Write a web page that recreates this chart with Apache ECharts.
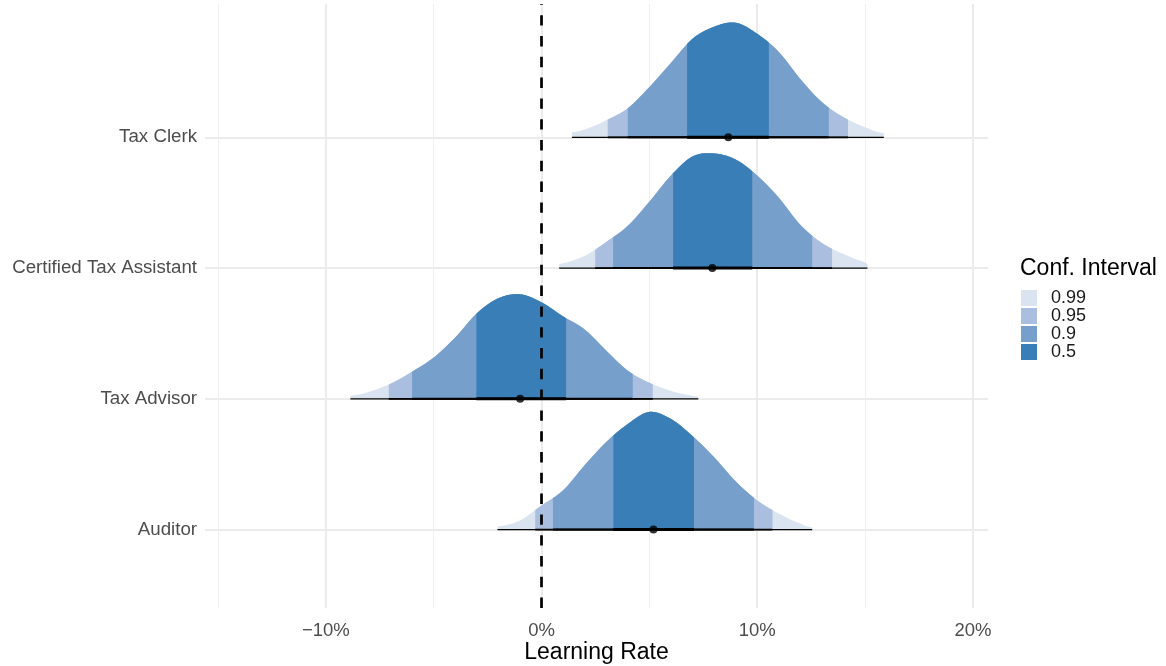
<!DOCTYPE html>
<html>
<head>
<meta charset="utf-8">
<script src="https://cdn.jsdelivr.net/npm/echarts@6/dist/echarts.min.js"></script>
<style>
  html, body { margin: 0; padding: 0; background: #fff; }
  #chart { width: 1166px; height: 666px; }
</style>
</head>
<body>
<div id="chart"></div>
<script>
// categories, bottom to top
const categories = ['Auditor', 'Tax Advisor', 'Certified Tax Assistant', 'Tax Clerk'];
const levels = ['0.99', '0.95', '0.9', '0.5'];
const levelColors = ['#DAE3F0', '#AABFDF', '#779FCB', '#3A7EB8'];

// density curves (x in %, density in relative units)
const auditorX = [-2.04, -1, 0, 1, 2, 3, 4, 5, 6, 7, 8, 9, 10, 11, 12, 12.55];
const auditorDensity = [3, 9, 24, 39, 64, 87, 105, 117, 110, 93, 72, 48, 29, 16, 6, 2];
const advisorX = [-8.86, -8, -7, -6, -5, -4, -3, -2, -1, 0, 1, 2, 3, 4, 5, 6, 7, 7.27];
const advisorDensity = [3, 7, 15, 27, 41, 61, 85, 100, 104, 96, 82, 69, 48, 28, 16, 8, 3, 2];
const assistantX = [0.82, 2, 3, 4, 5, 6, 7, 8, 9, 10, 11, 12, 13, 14, 15, 15.11];
const assistantDensity = [4, 12, 26, 42, 66, 92, 111, 114, 108, 92, 70, 43, 25, 14, 6, 4];
const clerkX = [1.41, 2, 3, 4, 5, 6, 7, 8, 9, 10, 11, 12, 13, 14, 15, 15.87];
const clerkDensity = [5, 8, 17, 29, 50, 74, 98, 110, 114, 103, 85, 58, 35, 20, 10, 4];

// [lo, hi] for 0.99, 0.95, 0.9, 0.5
const auditorIntervals = [[-2.04, 12.55], [-0.29, 10.71], [0.53, 9.85], [3.33, 7.07]];
const advisorIntervals = [[-8.86, 7.27], [-7.08, 5.16], [-6.0, 4.23], [-3.02, 1.14]];
const assistantIntervals = [[0.82, 15.11], [2.49, 13.47], [3.32, 12.55], [6.1, 9.77]];
const clerkIntervals = [[1.41, 15.87], [3.07, 14.21], [4.0, 13.32], [6.75, 10.54]];

const medians = [5.19, -0.99, 7.92, 8.66];

const xTickValues = [-10, 0, 10, 20];
const xMinorValues = [-15, -5, 5, 15];

const curveX = [auditorX, advisorX, assistantX, clerkX];
const curveDensity = [auditorDensity, advisorDensity, assistantDensity, clerkDensity];
const intervals = [auditorIntervals, advisorIntervals, assistantIntervals, clerkIntervals];

const maxDensity = Math.max(...curveDensity.map(d => Math.max(...d)));
const slabScale = 0.9 / maxDensity;
const font = "'Liberation Sans', Arial, Helvetica, sans-serif";

// smooth the read points when drawing (catmull-rom)
function densityAt(xs, ds, x) {
  let k = 0;
  while (k < xs.length - 2 && x > xs[k + 1]) k++;
  const t = Math.min(Math.max((x - xs[k]) / (xs[k + 1] - xs[k]), 0), 1);
  const p0 = ds[Math.max(k - 1, 0)], p1 = ds[k], p2 = ds[k + 1], p3 = ds[Math.min(k + 2, ds.length - 1)];
  const t2 = t * t, t3 = t2 * t;
  const v = 0.5 * (2 * p1 + (-p0 + p2) * t + (2 * p0 - 5 * p1 + 4 * p2 - p3) * t2 + (-p0 + 3 * p1 - 3 * p2 + p3) * t3);
  return Math.max(v, 0);
}

function slabRenderer(level) {
  return function (params, api) {
    const i = params.dataIndex;
    const [lo, hi] = intervals[i][level];
    const base = i + 1;
    const pts = [api.coord([lo, base])];
    const steps = 80;
    for (let k = 0; k <= steps; k++) {
      const x = lo + (hi - lo) * k / steps;
      pts.push(api.coord([x, base + densityAt(curveX[i], curveDensity[i], x) * slabScale]));
    }
    pts.push(api.coord([hi, base]));
    return {
      type: 'polygon',
      shape: { points: pts },
      style: { fill: levelColors[level] }
    };
  };
}

const lineWidths = [1.2, 1.8, 2.0, 3.0];
function intervalRenderer(params, api) {
  const i = params.dataIndex;
  return {
    type: 'group',
    children: intervals[i].map((iv, level) => {
      const a = api.coord([iv[0], i + 1]);
      const b = api.coord([iv[1], i + 1]);
      return {
        type: 'line',
        shape: { x1: a[0], y1: a[1], x2: b[0], y2: b[1] },
        style: { stroke: '#000', lineWidth: lineWidths[level] }
      };
    })
  };
}

const pointData = medians.map((m, i) => [m, i + 1]);

const slabSeries = levels.map((name, level) => ({
  name: name,
  type: 'custom',
  renderItem: slabRenderer(level),
  data: pointData,
  encode: { x: 0, y: 1 },
  itemStyle: { color: levelColors[level] },
  silent: true,
  z: 2
}));

const chart = echarts.init(document.getElementById('chart'));
chart.setOption({
  animation: false,
  backgroundColor: '#fff',
  textStyle: { fontFamily: font },
  grid: { left: 205, width: 783, top: 4, height: 604, outerBoundsMode: 'none', containLabel: false },
  title: {
    text: 'Conf. Interval',
    left: 1020,
    top: 257,
    padding: 0,
    textStyle: { fontFamily: font, fontSize: 23, fontWeight: 'normal', color: '#000' }
  },
  legend: {
    data: levels,
    orient: 'vertical',
    left: 1021,
    top: 289,
    padding: 0,
    icon: 'rect',
    itemWidth: 16,
    itemHeight: 16,
    itemGap: 0,
    selectedMode: false,
    textStyle: { fontFamily: font, fontSize: 18, color: '#1A1A1A', lineHeight: 16, padding: [0, 0, 0, 9] }
  },
  xAxis: [
    {
      type: 'value',
      min: -15.6,
      max: 20.7,
      name: 'Learning Rate',
      nameLocation: 'middle',
      nameGap: 33,
      nameMoveOverlap: false,
      nameTextStyle: { fontFamily: font, fontSize: 23, color: '#000', verticalAlign: 'top' },
      axisLine: { show: false },
      axisTick: { show: false, customValues: xTickValues },
      axisLabel: {
        customValues: xTickValues,
        margin: 13,
        fontSize: 18.5,
        color: '#4D4D4D',
        fontFamily: font,
        formatter: v => (v < 0 ? '\u2212' + (-v) : v) + '%'
      },
      splitLine: { show: true, lineStyle: { color: '#EBEBEB', width: 2 } }
    },
    {
      type: 'value',
      min: -15.6,
      max: 20.7,
      position: 'bottom',
      axisLine: { show: false },
      axisTick: { show: false, customValues: xMinorValues },
      axisLabel: { show: false },
      splitLine: { show: true, lineStyle: { color: '#EFEFEF', width: 1 } }
    }
  ],
  yAxis: {
    type: 'value',
    min: 0.4,
    max: 5.02,
    axisLine: { show: false },
    axisTick: { show: false, customValues: [1, 2, 3, 4] },
    axisLabel: {
      customValues: [1, 2, 3, 4],
      margin: 8,
      fontSize: 18.7,
      color: '#4D4D4D',
      fontFamily: font,
      formatter: v => categories[Math.round(v) - 1]
    },
    splitLine: { show: true, lineStyle: { color: '#EBEBEB', width: 2 } }
  },
  series: [
    ...slabSeries,
    {
      name: 'interval',
      type: 'custom',
      renderItem: intervalRenderer,
      data: pointData,
      encode: { x: 0, y: 1 },
      silent: true,
      z: 3
    },
    {
      name: 'median',
      type: 'scatter',
      data: pointData,
      symbol: 'circle',
      symbolSize: 8,
      itemStyle: { color: '#000' },
      silent: true,
      z: 4,
      markLine: {
        silent: true,
        symbol: 'none',
        label: { show: false },
        lineStyle: { color: '#000', width: 2.7, type: [10.4, 10.4] },
        data: [{ xAxis: 0 }],
        z: 5
      }
    }
  ]
});
</script>
</body>
</html>
